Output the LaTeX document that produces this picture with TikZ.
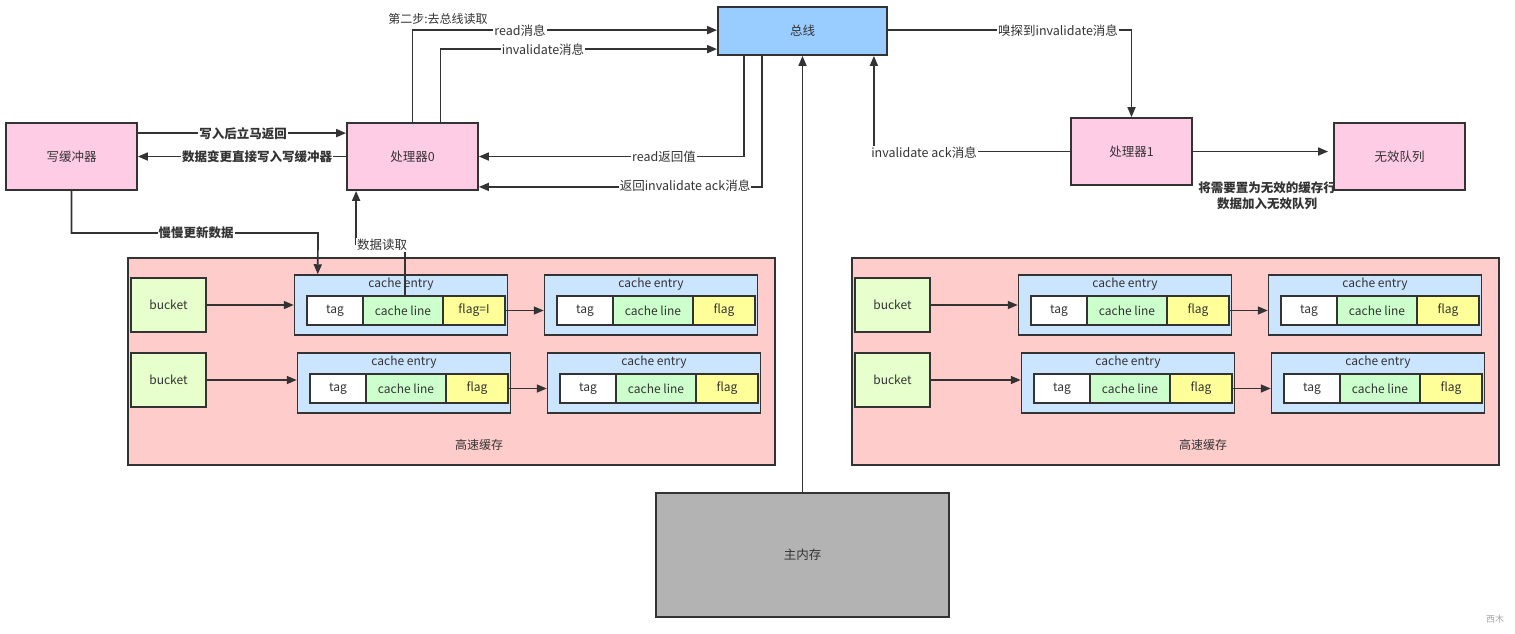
\documentclass[tikz,border=0pt]{standalone}
\usepackage{fontspec}
\setmainfont{Noto Sans CJK SC}
\usetikzlibrary{arrows.meta}

\definecolor{procpink}{HTML}{FFCCE6}
\definecolor{busblue}{HTML}{99CCFF}
\definecolor{cachered}{HTML}{FFCCCC}
\definecolor{bucketgreen}{HTML}{E6FFCC}
\definecolor{entryblue}{HTML}{CCE5FF}
\definecolor{linegreen}{HTML}{CCFFCC}
\definecolor{flagyellow}{HTML}{FFFF99}
\definecolor{memgray}{HTML}{B3B3B3}
\definecolor{ink}{HTML}{333333}

% one cache: buckets, entries and cells
\newcommand\cacheblock[1]{%
  %Shape: Rectangle [cache]
  \node[cachebox, minimum width=647pt, minimum height=207pt] (c) at (451.5,361.5) {};
  % Text Node
  \node[txt] (ct) at (479,445) {高速缓存};
  %Shape: Rectangle [buckets]
  \node[bucketbox] (b1) at (168.5,305) {bucket};
  \node[bucketbox] (b2) at (168.5,380) {bucket};
  %Shape: Rectangle [entries]
  \foreach \n/\x/\y in {1/294/275, 2/544/275, 3/297/353, 4/547/353} {
    \node[entrybox] (e\n) at (\x+107,\y+30) {};
    \node[txt] (h\n) at (\x+107,\y+9.5) {cache entry};
    \node[cell, fill=white, minimum width=56pt] (t\n) at (\x+41,\y+35.5) {tag};
    \node[cell, fill=linegreen, minimum width=80pt] (l\n) at (\x+109,\y+35.5) {cache line};
    \node[cell, fill=flagyellow, minimum width=62pt] (f\n) at (\x+180,\y+35.5) {\ifnum\n=1 #1\else flag\fi};
  }
  %Straight Lines
  \draw[arr] (b1.east) -- (e1.west);
  \draw[arr] (f1.east) -- (f1.east -| e2.west);
  \draw[arr] (b2.east) -- (b2.east -| e3.west);
  \draw[arr] (f3.east) -- (f3.east -| e4.west);
}

\begin{document}
\begin{tikzpicture}[x=1pt,y=-1pt,
    font=\fontsize{12.5}{15}\selectfont, text=ink,
    box/.style={draw=ink, line width=1.8pt, fill=procpink, inner sep=0pt},
    cachebox/.style={draw=ink, line width=1.8pt, fill=cachered, inner sep=0pt},
    bucketbox/.style={draw=ink, line width=1.5pt, fill=bucketgreen, inner sep=0pt,
      minimum width=75pt, minimum height=54pt, font=\fontsize{12}{14}\selectfont},
    entrybox/.style={draw=ink, line width=1.5pt, fill=entryblue, inner sep=0pt,
      minimum width=213pt, minimum height=60pt},
    cell/.style={draw=ink, line width=1.3pt, inner sep=0pt, minimum height=29pt,
      font=\fontsize{12}{14}\selectfont},
    txt/.style={inner sep=0.75pt, font=\fontsize{12}{14}\selectfont},
    lbl/.style={fill=white, inner sep=1pt},
    arr/.style={draw=ink, line width=1.7pt, -{Triangle[length=10pt,width=8pt]}}]
  \useasboundingbox (0,0) rectangle (1515,633);

  %Shape: Rectangle [id:wbuf]
  \node[box, minimum width=131pt, minimum height=67pt] (wbuf) at (71.5,156.5) {写缓冲器};
  %Shape: Rectangle [id:p0]
  \node[box, minimum width=131pt, minimum height=67pt] (p0) at (412.5,156.5) {处理器0};
  %Shape: Rectangle [id:bus]
  \node[box, fill=busblue, minimum width=169pt, minimum height=48pt] (bus) at (802.5,31) {总线};
  %Shape: Rectangle [id:p1]
  \node[box, minimum width=121pt, minimum height=67pt] (p1) at (1131.5,151.5) {处理器1};
  %Shape: Rectangle [id:mem]
  \node[box, fill=memgray, minimum width=293pt, minimum height=124pt] (mem) at (802.5,555) {主内存};

  %Shape: caches
  \begin{scope}[name prefix=L-]
    \cacheblock{flag=I}
  \end{scope}
  \begin{scope}[xshift=724pt, name prefix=R-]
    \cacheblock{flag}
  \end{scope}

  %Straight Lines [write buffer]
  \draw[arr] ([yshift=-11pt]wbuf.north east) -- ([yshift=-11pt]p0.north west);
  \draw[arr] (p0.west) -- (wbuf.east);
  \draw[arr] (wbuf.south) |- (318,233) -- ([xshift=24pt]L-e1.north west);
  \draw[arr] ([xshift=2pt]L-l1.north) -- ++(0,-51) -| ([xshift=10pt]p0.south west);
  %Straight Lines [bus]
  \draw[arr] (p0.north) |- ([yshift=-24pt]bus.north west);
  \draw[arr] ([xshift=28pt]p0.north) |- ([yshift=-43pt]bus.north west);
  \draw[arr] ([xshift=27pt]bus.south west) |- (p0.east);
  \draw[arr] ([xshift=45pt]bus.south west) |- ([yshift=4pt]p0.south east);
  \draw[arr] (mem.north) -- (mem.north |- bus.south);
  \draw[arr] (p1.west) -| ([xshift=-14pt]bus.south east);
  \draw[arr] ([yshift=-24pt]bus.north east) -| (p1.north);

  % Text Node
  \node[lbl, font=\fontsize{12.5}{15}\selectfont\bfseries] (t1) at (243,134) {写入后立马返回};
  \node[lbl, font=\fontsize{12.5}{15}\selectfont\bfseries] (t2) at (257,157) {数据变更直接写入写缓冲器};
  \node[lbl, font=\fontsize{12.5}{15}\selectfont\bfseries] (t3) at (196,233) {慢慢更新数据};
  \node[lbl] (t4) at (382,245) {数据读取};
  \node[inner sep=0.75pt, font=\fontsize{12}{14}\selectfont] (t5) at (438,19) {第二步:去总线读取};
  \node[lbl] (t6) at (520,31) {read消息};
  \node[lbl] (t7) at (543,50) {invalidate消息};
  \node[lbl] (t8) at (664,157) {read返回值};
  \node[lbl] (t9) at (685,186) {返回invalidate ack消息};
  \node[lbl] (t10) at (924,153) {invalidate ack消息};
  \node[lbl] (t11) at (1058,31) {嗅探到invalidate消息};
  \node[inner sep=0.75pt, align=center, font=\fontsize{12.5}{16}\selectfont\bfseries] (t12) at (1267,196) {将需要置为无效的缓存行\\数据加入无效队列};
  \node[inner sep=0pt, text=gray!70, font=\fontsize{9}{10}\selectfont] (wm) at (1495,619) {西木};

  %Shape: Rectangle [id:queue]
  \node[box, minimum width=131pt, minimum height=67pt] (q) at (1399.5,156.5) {无效队列};
  %Straight Lines [queue]
  \draw[arr, shorten >=5pt] (p1.east) -- (p1.east -| q.west);
\end{tikzpicture}
\end{document}
